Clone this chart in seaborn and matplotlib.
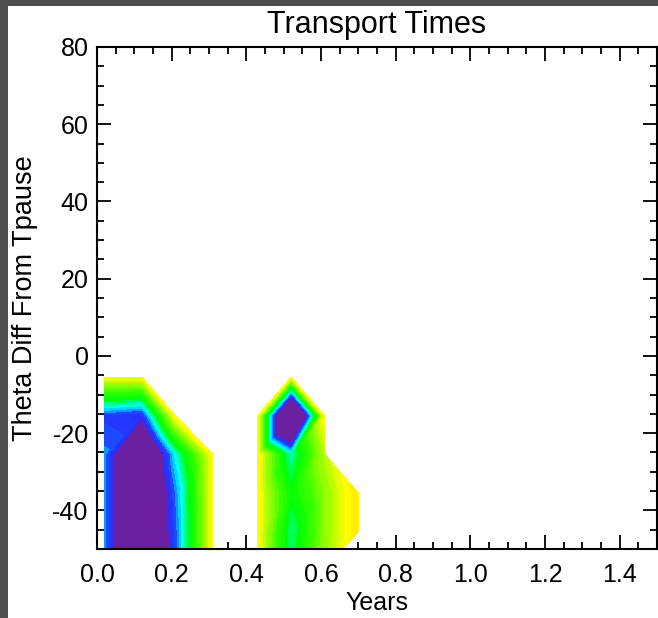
import numpy as np
import matplotlib
matplotlib.use("Agg")
import matplotlib.pyplot as plt
import matplotlib.tri as mtri
from matplotlib.colors import LinearSegmentedColormap, Normalize
from matplotlib.patches import Rectangle
from matplotlib.ticker import MultipleLocator, FormatStrFormatter
import seaborn as sns

# ---------------- data ----------------
nan = np.nan
years = [0.02, 0.12, 0.21, 0.31, 0.37, 0.43, 0.52, 0.61, 0.70]
theta = [-55.5, -45.5, -35.5, -25.5, -15.5, -5.5]
# transport-time index (0 = shortest / purple ... 1 = longest / yellow), NaN = no data
t_m55 = [0.50, 0.10, 0.47, 0.93, nan, 0.93, 0.62, 0.84, nan]
t_m45 = [0.50, 0.10, 0.47, 0.93, nan, 0.93, 0.60, 0.82, 0.97]
t_m35 = [0.50, 0.10, 0.49, 0.93, nan, 0.93, 0.66, 0.82, 0.97]
t_m25 = [0.50, 0.10, 0.56, 0.93, nan, 0.94, 0.58, 0.86, nan]
t_m15 = [0.45, 0.42, 0.94, nan, nan, 0.94, -0.10, 0.94, nan]
t_m05 = [0.92, 0.92, nan, nan, nan, nan, 0.92, nan, nan]
rows = [t_m55, t_m45, t_m35, t_m25, t_m15, t_m05]

x_ticks = [0.0, 0.2, 0.4, 0.6, 0.8, 1.0, 1.2, 1.4]
y_ticks = [-40, -20, 0, 20, 40, 60, 80]
title = "Transport Times"
xlabel = "Years"
ylabel = "Theta Diff From Tpause"

# ---------------- style ----------------
sns.set_style("ticks")
plt.rcParams["font.family"] = ["Liberation Sans", "DejaVu Sans"]
plt.rcParams["axes.unicode_minus"] = False
plt.rcParams["text.color"] = "black"
plt.rcParams["axes.labelcolor"] = "black"
plt.rcParams["xtick.color"] = "black"
plt.rcParams["ytick.color"] = "black"

W, H = 658, 618
fig = plt.figure(figsize=(W / 100, H / 100), dpi=100)
fig.patch.set_facecolor("white")
ax = fig.add_axes([97 / W, (H - 549) / H, (657 - 97) / W, (549 - 47) / H])
ax.set_facecolor("white")

# ---------------- triangulated grid ----------------
Z = np.array(rows, dtype=float)
ny, nx = Z.shape
XX, YY = np.meshgrid(np.array(years), np.array(theta))
valid = ~np.isnan(Z)
idx = -np.ones(Z.shape, dtype=int)
idx[valid] = np.arange(valid.sum())
px, py, pz = XX[valid], YY[valid], Z[valid]

tris = []
for j in range(ny - 1):
    for i in range(nx - 1):
        bl, br, tl, tr = (j, i), (j, i + 1), (j + 1, i), (j + 1, i + 1)
        if np.isnan(Z[tr]) or np.isnan(Z[bl]):
            cand = [(bl, br, tl), (br, tr, tl)]
        else:
            cand = [(bl, br, tr), (bl, tr, tl)]
        for t in cand:
            if all(valid[p] for p in t):
                tris.append([idx[p] for p in t])
triang = mtri.Triangulation(px, py, np.array(tris))

anchors = [
    (0.00, (0.42, 0.12, 0.63)),
    (0.40, (0.42, 0.12, 0.63)),
    (0.401, (0.16, 0.16, 1.0)),
    (0.47, (0.12, 0.25, 1.0)),
    (0.52, (0.0, 0.75, 1.0)),
    (0.56, (0.0, 1.0, 1.0)),
    (0.61, (0.0, 1.0, 0.5)),
    (0.66, (0.0, 1.0, 0.0)),
    (0.74, (0.2, 1.0, 0.0)),
    (0.84, (0.62, 1.0, 0.0)),
    (0.92, (1.0, 1.0, 0.0)),
    (1.00, (1.0, 0.87, 0.0)),
]
cmap = LinearSegmentedColormap.from_list("idl", anchors)
levels = np.concatenate([[-1.0], np.linspace(0.40, 1.0, 21)[:-1], [1.01]])
ax.tricontourf(triang, pz, levels=levels, cmap=cmap, norm=Normalize(0, 1))

# ---------------- axes ----------------
ax.set_xlim(0, 1.5)
ax.set_ylim(-50, 80)
ax.set_xticks(x_ticks)
ax.set_yticks(y_ticks)
ax.xaxis.set_major_formatter(FormatStrFormatter("%.1f"))
ax.yaxis.set_major_formatter(FormatStrFormatter("%d"))
ax.xaxis.set_minor_locator(MultipleLocator(0.05))
ax.yaxis.set_minor_locator(MultipleLocator(5))
ax.tick_params(which="both", direction="in", top=True, right=True, color="black",
               width=1.3)
ax.tick_params(which="major", length=10)
ax.tick_params(which="minor", length=5)
ax.tick_params(axis="x", which="major", pad=10, labelsize=18, labelcolor="black")
ax.tick_params(axis="y", which="major", pad=6, labelsize=18, labelcolor="black")
for s in ax.spines.values():
    s.set_visible(True)
    s.set_color("black")
    s.set_linewidth(1.5)

ax.set_title(title, fontsize=22, pad=10, color="black")
ax.set_xlabel(xlabel, fontsize=18, labelpad=3, color="black")
ax.set_ylabel(ylabel, fontsize=19.5, labelpad=10, color="black")

# dark window border (left and top)
fig.patches.append(Rectangle((0, 0), 8 / W, 1, transform=fig.transFigure,
                             facecolor="#4e4e4e", edgecolor="none", zorder=10))
fig.patches.append(Rectangle((0, 1 - 6 / H), 1, 6 / H, transform=fig.transFigure,
                             facecolor="#4e4e4e", edgecolor="none", zorder=10))

fig.savefig("out.png", dpi=100)
